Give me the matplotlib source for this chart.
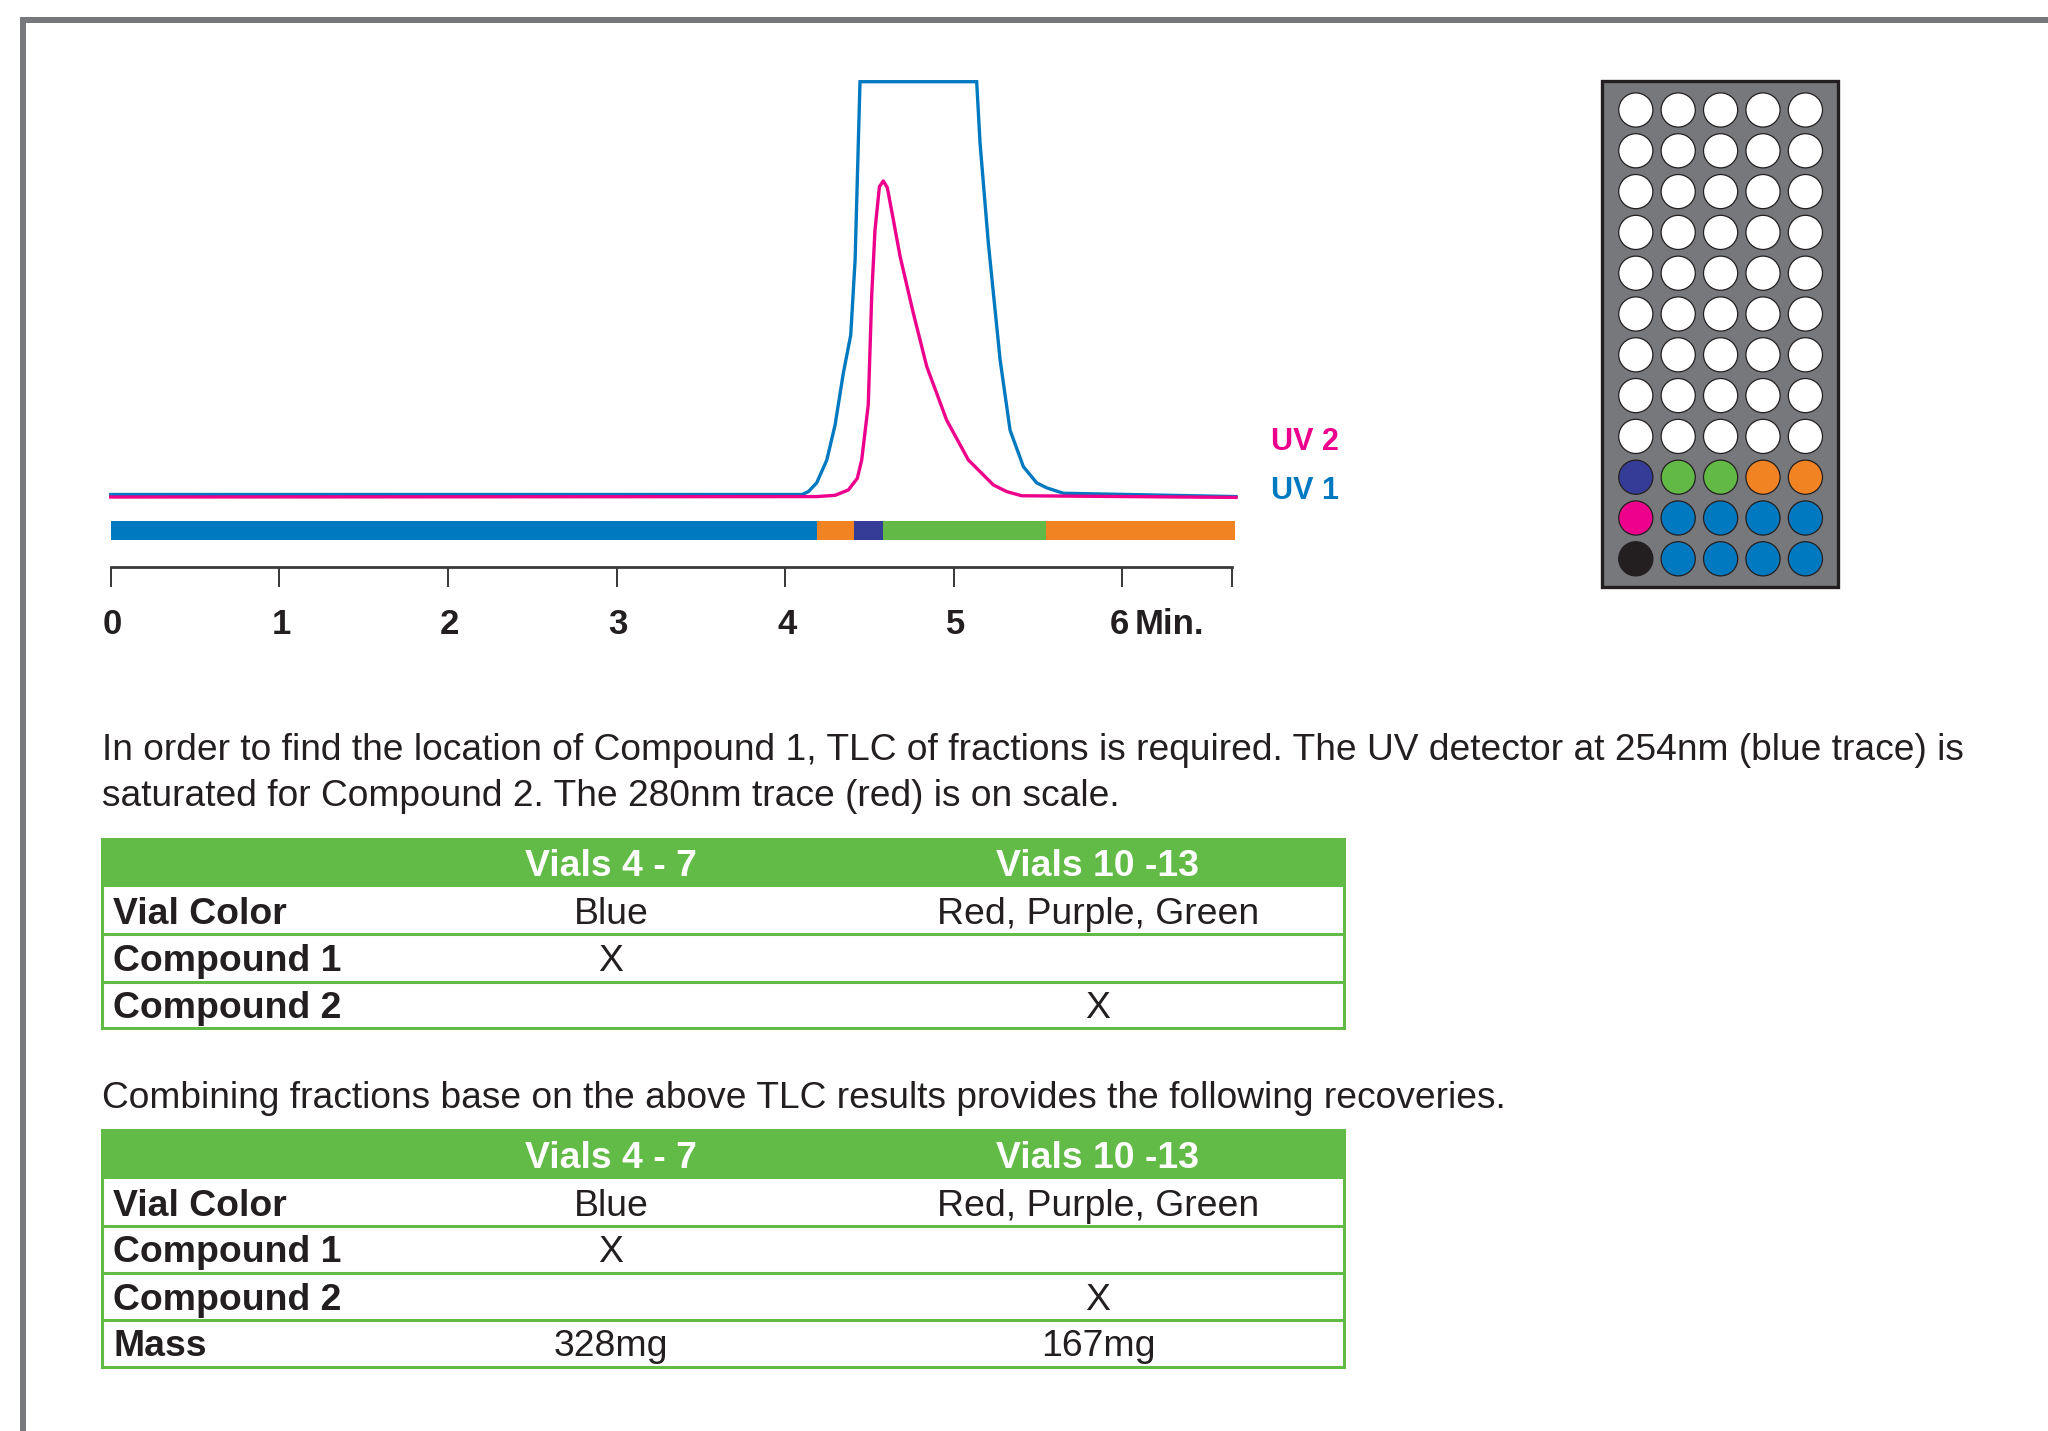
import matplotlib
matplotlib.use("Agg")
import matplotlib.pyplot as plt
from matplotlib.patches import Rectangle

W, H = 2048, 1431

# UV traces: time (min) vs relative signal (% of detector range)
uv1_time = [0.0, 4.10, 4.138, 4.187, 4.247, 4.296, 4.345, 4.389, 4.415, 4.444,
            5.136, 5.156, 5.205, 5.275, 5.334, 5.413, 5.492, 5.552, 5.650, 6.674]
uv1_signal = [0.6, 0.6, 1.3, 3.4, 8.9, 17.3, 29.8, 39.0, 57.1, 100.0,
              100.0, 85.2, 61.2, 33.0, 16.1, 7.3, 3.4, 2.2, 0.9, 0.1]

uv2_time = [0.0, 4.187, 4.296, 4.375, 4.428, 4.454, 4.493, 4.514, 4.533, 4.559,
            4.582, 4.606, 4.642, 4.682, 4.760, 4.840, 4.958, 5.087, 5.235, 5.314,
            5.403, 6.674]
uv2_signal = [0.0, 0.1, 0.4, 1.7, 4.5, 8.9, 22.2, 49.1, 64.3, 74.7,
              76.1, 74.5, 66.7, 57.9, 44.3, 31.4, 18.5, 8.9, 2.9, 1.3,
              0.3, -0.1]

# fraction collector bar
frac_edges = [0.0, 4.19, 4.41, 4.58, 5.55, 6.67]
frac_colors = ['#0079C1', '#F28322', '#353C97', '#62B946', '#F28322']

time_ticks = [0, 1, 2, 3, 4, 5, 6]
time_labels = ['0', '1', '2', '3', '4', '5', '6']
time_end = 6.65

# vial rack, 12 rows x 5 columns
W_ = 'white'
vial_rows = [[W_] * 5] * 9 + [
    ['#353C97', '#62B946', '#62B946', '#F28322', '#F28322'],
    ['#EC008C', '#0079C1', '#0079C1', '#0079C1', '#0079C1'],
    ['#231F20', '#0079C1', '#0079C1', '#0079C1', '#0079C1'],
]

table_header = ['', 'Vials 4 - 7', 'Vials 10 -13']
table1_rows = [['Vial Color', 'Blue', 'Red, Purple, Green'],
               ['Compound 1', 'X', ''],
               ['Compound 2', '', 'X']]
table2_rows = table1_rows + [['Mass', '328mg', '167mg']]

text1 = ("In order to find the location of Compound 1, TLC of fractions is required. "
         "The UV detector at 254nm (blue trace) is")
text2 = "saturated for Compound 2. The 280nm trace (red) is on scale."
text3 = "Combining fractions base on the above TLC results provides the following recoveries."

BLUE = '#0079C1'
PINK = '#EC008C'
GREEN = '#62BB46'
INK = '#231F20'
SANS = ['Liberation Sans', 'DejaVu Sans']


def px_axes(fig, x0, y0, x1, y1):
    return fig.add_axes([x0 / W, 1 - y1 / H, (x1 - x0) / W, (y1 - y0) / H])


fig = plt.figure(figsize=(W / 100, H / 100), dpi=100)
fig.patch.set_facecolor('white')

# page frame
frame = px_axes(fig, 0, 0, W, H)
frame.set_xlim(0, W)
frame.set_ylim(H, 0)
frame.axis('off')
frame.add_patch(Rectangle((20, 17), W - 20, 6, color='#77787B', lw=0))
frame.add_patch(Rectangle((20, 17), 6, H - 17, color='#77787B', lw=0))

# chromatogram
x_left, x_right = 110.7, 1236
tmax = 6.674
ax = px_axes(fig, x_left, 81.7, x_right, 497)
ax.set_xlim(0, tmax)
ax.set_ylim(0, 100)
ax.axis('off')
ax.plot(uv1_time, uv1_signal, color=BLUE, lw=2.4, clip_on=False, solid_joinstyle='miter')
ax.plot(uv2_time, uv2_signal, color=PINK, lw=2.4, clip_on=False)

fig.text(1271 / W, 1 - 442 / H, 'UV 2', color=PINK, fontsize=22,
         family=SANS, weight='bold', va='center', ha='left')
fig.text(1271 / W, 1 - 491 / H, 'UV 1', color=BLUE, fontsize=22,
         family=SANS, weight='bold', va='center', ha='left')

# fraction bar
axf = px_axes(fig, x_left, 521, x_right, 540)
axf.set_xlim(0, tmax)
axf.set_ylim(-0.5, 0.5)
axf.axis('off')
lefts = frac_edges[:-1]
widths = [b - a for a, b in zip(frac_edges[:-1], frac_edges[1:])]
axf.barh([0] * len(lefts), widths, left=lefts, height=1, color=frac_colors, lw=0)

# time axis
axt = px_axes(fig, x_left, 566.7, x_right, 650)
axt.set_xlim(0, tmax)
axt.set_ylim(0, 1)
for s in ['left', 'right', 'bottom']:
    axt.spines[s].set_visible(False)
axt.spines['top'].set_bounds(0, time_end)
axt.spines['top'].set_color('#3a3a3a')
axt.spines['top'].set_linewidth(2.0)
axt.set_yticks([])
axt.xaxis.tick_top()
axt.set_xticks(time_ticks + [time_end])
axt.tick_params(axis='x', direction='in', length=14.5, width=1.1, color='black',
                labeltop=False, labelbottom=False)
axt.patch.set_alpha(0)
for t, lab in zip(time_ticks, time_labels):
    axt.text(t - 0.02 if t == 6 else t + 0.01, 0.19, lab,
             transform=axt.get_xaxis_transform(), ha='center',
             va='baseline', fontsize=25, family=SANS, weight='bold', color=INK)
axt.text(6.07, 0.19, 'Min.', transform=axt.get_xaxis_transform(), ha='left',
         va='baseline', fontsize=25, family=SANS, weight='bold', color=INK)

# vial rack
cx0, dx = 1635.8, 42.4
cy0, dy = 110.0, 40.8
rx0, ry0, rx1, ry1 = 1601.7, 81, 1838.3, 587
axr = px_axes(fig, rx0, ry0, rx1, ry1)
xa = (rx0 - cx0) / dx
xb = (rx1 - cx0) / dx
ya = (ry0 - cy0) / dy
yb = (ry1 - cy0) / dy
axr.set_xlim(xa, xb)
axr.set_ylim(yb, ya)
axr.axis('off')
axr.add_patch(Rectangle((xa, ya), xb - xa, yb - ya, facecolor='#77787B',
                        edgecolor=INK, lw=2.4, clip_on=False))
for r, row in enumerate(vial_rows):
    axr.scatter(range(len(row)), [r] * len(row), s=24.6 ** 2, c=row,
                edgecolors=INK, linewidths=0.9, zorder=3)

# paragraphs
fig.text(102 / W, 1 - 760 / H, text1, fontsize=26.7, family=SANS, color=INK,
         va='baseline', ha='left')
fig.text(102 / W, 1 - 806 / H, text2, fontsize=26.7, family=SANS, color=INK,
         va='baseline', ha='left')
fig.text(102 / W, 1 - 1108 / H, text3, fontsize=26.7, family=SANS, color=INK,
         va='baseline', ha='left')


def draw_table(y_lines, rows):
    tx0, tx1 = 102, 1344
    axb = px_axes(fig, tx0, y_lines[0], tx1, y_lines[-1])
    axb.set_xlim(0, 1)
    axb.set_ylim(y_lines[-1], y_lines[0])
    axb.set_xticks([])
    axb.set_yticks([])
    for s in axb.spines.values():
        s.set_color(GREEN)
        s.set_linewidth(2.2)
    axb.add_patch(Rectangle((0, y_lines[0]), 1, y_lines[1] - y_lines[0],
                            color=GREEN, lw=0))
    for y in y_lines[2:-1]:
        axb.axhline(y, color=GREEN, lw=2.2)
    col_x = [(113 - tx0) / (tx1 - tx0), (611 - tx0) / (tx1 - tx0),
             (1098 - tx0) / (tx1 - tx0)]
    yc = (y_lines[0] + y_lines[1]) / 2
    for j, h in enumerate(table_header):
        if h:
            axb.text(col_x[j], yc + 4, h, ha='center', va='center', fontsize=26.9,
                     family=SANS, weight='bold', color='white')
    for i, row in enumerate(rows):
        yc = (y_lines[i + 1] + y_lines[i + 2]) / 2 + 4
        axb.text(col_x[0], yc, row[0], ha='left', va='center', fontsize=26.9,
                 family=SANS, weight='bold', color=INK)
        for j in (1, 2):
            axb.text(col_x[j], yc, row[j], ha='center', va='center', fontsize=26.9,
                     family=SANS, color=INK)


draw_table([839, 887, 934, 982, 1028], table1_rows)
draw_table([1130, 1179, 1225.5, 1272.5, 1319.5, 1366.5], table2_rows)

fig.savefig('out.png', dpi=100, facecolor='white')
